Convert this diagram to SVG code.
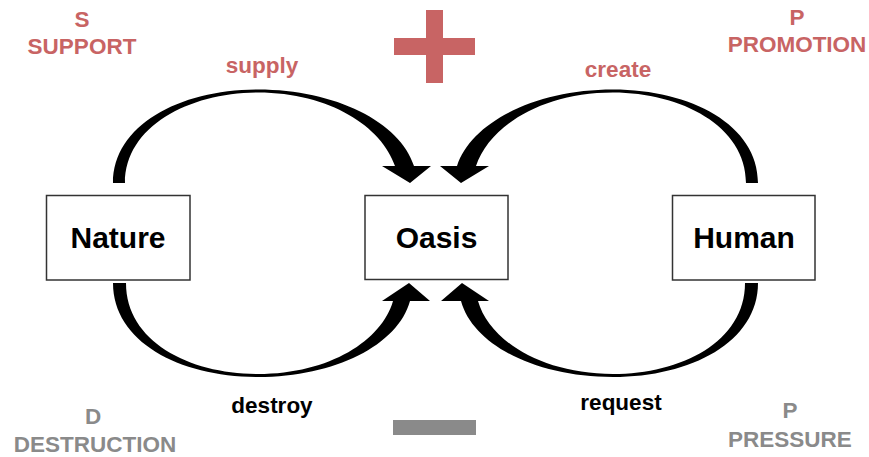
<svg xmlns="http://www.w3.org/2000/svg" width="869" height="457" viewBox="0 0 869 457">
  <style>
    .box { fill: #ffffff; stroke: #333333; stroke-width: 1.5; }
    .node { font-family: "Liberation Sans", Arial, sans-serif; font-weight: bold; font-size: 30px; fill: #000000; text-anchor: middle; }
    .lbl { font-family: "Liberation Sans", Arial, sans-serif; font-weight: bold; font-size: 22.5px; text-anchor: middle; }
    .red { fill: #c86464; }
    .gray { fill: #8a8a8a; }
    .blk { fill: #000000; }
    .arrow { fill: #000000; stroke: none; }
  </style>
  <rect width="869" height="457" fill="#ffffff"/>

  <g id="connectors">
    <path id="supply" class="arrow" d="M113,183 C113,125 180,89.5 258,89.5 C335,89.5 400,122 414,166 L431,166 L410,183 L382,166 L395,166 C382,127 330,92.5 258,92.5 C190,92.5 125,126 125,183 Z"/>
    <path id="create" class="arrow" transform="matrix(-1 0 0 1 871 0)" d="M113,183 C113,125 180,89.5 258,89.5 C335,89.5 400,122 414,166 L431,166 L410,183 L382,166 L395,166 C382,127 330,92.5 258,92.5 C190,92.5 125,126 125,183 Z"/>
    <path id="destroy" class="arrow" d="M113,283 C113,342 180,377 258,377 C335,377 398,345 410,301 L430,301 L409,283 L382,301 L393,301 C382,340 330,374 258,374 C190,374 126,342 126,283 Z"/>
    <path id="request" class="arrow" transform="matrix(-1 0 0 1 871 0)" d="M113,283 C113,342 180,377 258,377 C335,377 398,345 410,301 L430,301 L409,283 L382,301 L393,301 C382,340 330,374 258,374 C190,374 126,342 126,283 Z"/>
    <text class="lbl red" x="262" y="73">supply</text>
    <text class="lbl red" x="618" y="77">create</text>
    <text class="lbl blk" x="272" y="413">destroy</text>
    <text class="lbl blk" x="621" y="410">request</text>
  </g>

  <g id="nature">
    <rect class="box" x="46.5" y="195.5" width="143.5" height="84.5"/>
    <text class="node" x="118" y="248">Nature</text>
  </g>
  <g id="oasis">
    <rect class="box" x="365" y="195.5" width="143" height="84"/>
    <text class="node" x="436.5" y="248">Oasis</text>
  </g>
  <g id="human">
    <rect class="box" x="672.5" y="195.5" width="142.5" height="84.5"/>
    <text class="node" x="744" y="248">Human</text>
  </g>

  <g id="plus">
    <rect class="red" x="394" y="38" width="81" height="17"/>
    <rect class="red" x="426" y="10" width="17" height="73"/>
  </g>
  <g id="minus">
    <rect class="gray" x="393" y="420" width="83" height="15"/>
  </g>

  <g id="support">
    <text class="lbl red" x="82" y="27">S</text>
    <text class="lbl red" x="82" y="54">SUPPORT</text>
  </g>
  <g id="promotion">
    <text class="lbl red" x="797" y="25">P</text>
    <text class="lbl red" x="797" y="52">PROMOTION</text>
  </g>
  <g id="destruction">
    <text class="lbl gray" x="93" y="424">D</text>
    <text class="lbl gray" x="95" y="452">DESTRUCTION</text>
  </g>
  <g id="pressure">
    <text class="lbl gray" x="790" y="418">P</text>
    <text class="lbl gray" x="790" y="447">PRESSURE</text>
  </g>
</svg>
